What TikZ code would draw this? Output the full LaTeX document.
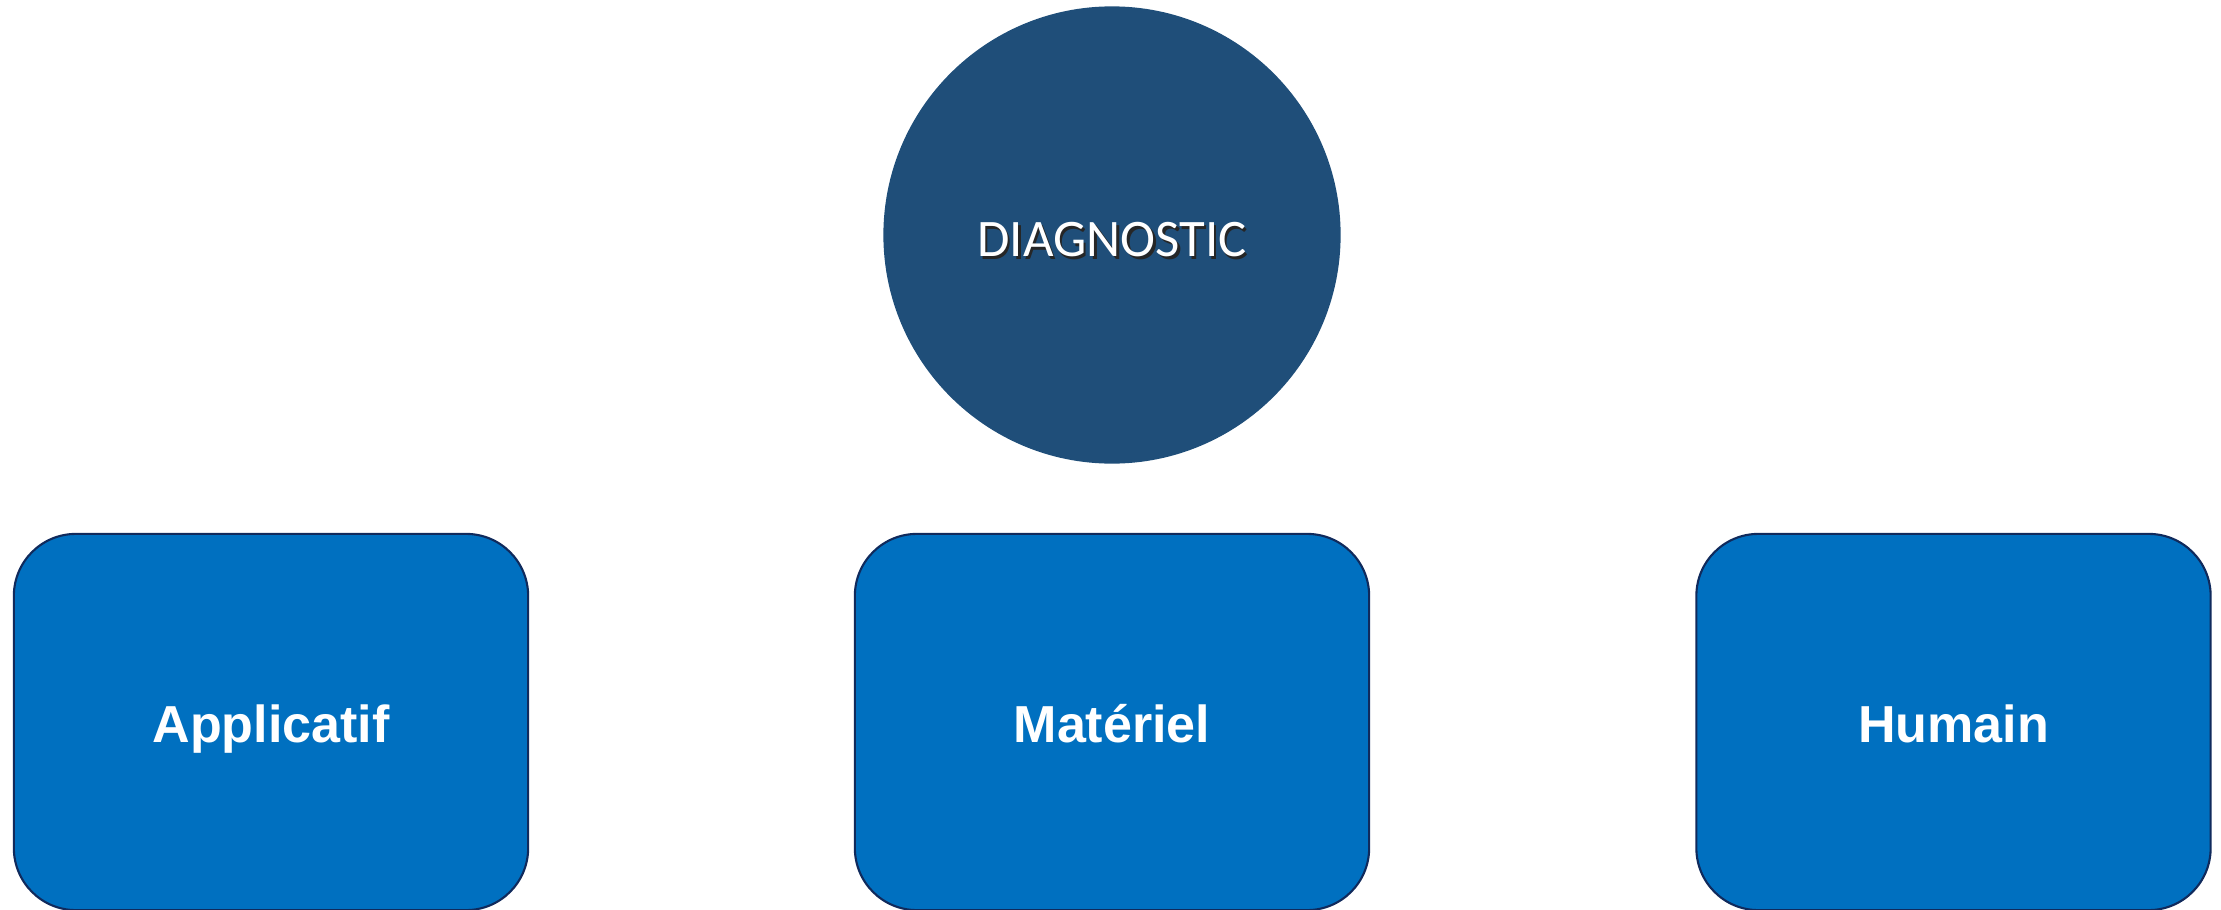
\documentclass[tikz,border=0pt]{standalone}
\usepackage{fontspec}
\setmainfont{Liberation Sans}
\newfontfamily\calfont{Carlito}
\definecolor{circfill}{HTML}{1F4E79}
\definecolor{boxfill}{HTML}{0070C0}
\definecolor{boxline}{HTML}{102A5C}
\begin{document}
\begin{tikzpicture}[x=0.01cm,y=-0.01cm,
  catbox/.style={rectangle, rounded corners=0.62cm, fill=boxfill, draw=boxline, line width=0.6pt,
    minimum width=5.14cm, minimum height=3.76cm, inner sep=0pt,
    text height=0.4cm, text depth=0pt,
    text=white, font=\fontsize{14.8}{18}\selectfont\bfseries},
  hub/.style={circle, fill=circfill, draw=none, minimum size=4.57cm, inner sep=0pt}]
\useasboundingbox (0,0) rectangle (2221,909);
\node[hub] (diag) at (1112,235) {};
\node[text=black!85, font=\calfont\fontsize{15}{18}\selectfont, inner sep=0pt] (diagshadow) at (1114.5,242.5) {DIAGNOSTIC};
\node[text=white, font=\calfont\fontsize{15}{18}\selectfont, inner sep=0pt] (diaglabel) at (1112,240) {DIAGNOSTIC};
\node[catbox] (app) at (271,722) {Applicatif};
\node[catbox] (mat) at (1112,722) {Matériel};
\node[catbox] (hum) at (1953.5,722) {Humain};
\end{tikzpicture}
\end{document}
